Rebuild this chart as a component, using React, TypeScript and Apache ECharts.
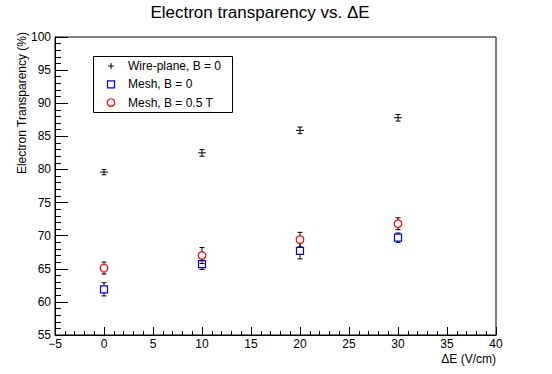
import React, { useEffect, useRef } from "react";
import * as echarts from "echarts";

const titleText = "Electron transparency vs. \u0394E";
const xTitle = "\u0394E (V/cm)";
const yTitle = "Electron Transparency (%)";
const xValues = [0, 10, 20, 30];
const wireName = "Wire-plane, B = 0";
const wireValues = [79.6, 82.5, 85.9, 87.8];
const wireErrors = [0.4, 0.5, 0.5, 0.5];
const meshName = "Mesh, B = 0";
const meshValues = [61.9, 65.7, 67.7, 69.7];
const meshErrors = [1.0, 0.8, 1.2, 0.7];
const meshBName = "Mesh, B = 0.5 T";
const meshBValues = [65.1, 67.0, 69.4, 71.8];
const meshBErrors = [0.9, 1.2, 1.1, 0.9];

const FONT = "Liberation Sans, Arial, Helvetica, sans-serif";

function makeSeries(name: string, ys: number[], errs: number[], marker: string, color: string) {
  return {
    type: "custom",
    name,
    clip: true,
    data: xValues.map((x, i) => [x, ys[i], errs[i]]),
    encode: { x: 0, y: 1 },
    renderItem: (params: any, api: any) => {
      const x = api.value(0);
      const y = api.value(1);
      const e = api.value(2);
      const top = api.coord([x, y + e]);
      const bot = api.coord([x, y - e]);
      const c = api.coord([x, y]);
      const cap = 2.5;
      const ls = { stroke: "#000", lineWidth: 1 };
      const children: any[] = [
        { type: "line", shape: { x1: c[0], y1: top[1], x2: c[0], y2: bot[1] }, style: ls },
        { type: "line", shape: { x1: c[0] - cap, y1: top[1], x2: c[0] + cap, y2: top[1] }, style: ls },
        { type: "line", shape: { x1: c[0] - cap, y1: bot[1], x2: c[0] + cap, y2: bot[1] }, style: ls },
      ];
      if (marker === "plus") {
        children.push({ type: "line", shape: { x1: c[0] - 4, y1: c[1], x2: c[0] + 4, y2: c[1] }, style: ls });
      } else if (marker === "square") {
        children.push({ type: "rect", shape: { x: c[0] - 3.5, y: c[1] - 3.5, width: 7, height: 7 }, style: { fill: "#fff", stroke: color, lineWidth: 1.2 } });
      } else {
        children.push({ type: "circle", shape: { cx: c[0], cy: c[1], r: 3.8 }, style: { fill: "#fff", stroke: color, lineWidth: 1.2 } });
      }
      return { type: "group", children };
    },
  };
}

const fmt = (v: number) => String(v).replace("-", "\u2212");

export default function App() {
  const ref = useRef<HTMLDivElement>(null);
  useEffect(() => {
    if (!ref.current) return;
    const chart = echarts.init(ref.current, null, { renderer: "svg" });
    const lx = 93, ly = 56;
    const legendRows = [
      { name: wireName, marker: "plus", color: "#000" },
      { name: meshName, marker: "square", color: "#0000ff" },
      { name: meshBName, marker: "circle", color: "#ff0000" },
    ];
    const legendEls: any[] = [
      { type: "rect", shape: { x: lx + 0.5, y: ly + 0.5, width: 139, height: 56 }, style: { fill: "#fff", stroke: "#000", lineWidth: 1 }, z: 100 },
    ];
    legendRows.forEach((r, i) => {
      const cy = ly + 10 + i * 18.3;
      const mx = 111;
      if (r.marker === "plus") {
        legendEls.push({ type: "line", shape: { x1: mx - 3, y1: cy, x2: mx + 3, y2: cy }, style: { stroke: "#000", lineWidth: 1 }, z: 101 });
        legendEls.push({ type: "line", shape: { x1: mx, y1: cy - 3, x2: mx, y2: cy + 3 }, style: { stroke: "#000", lineWidth: 1 }, z: 101 });
      } else if (r.marker === "square") {
        legendEls.push({ type: "rect", shape: { x: mx - 3.5, y: cy - 3.5, width: 7, height: 7 }, style: { fill: "#fff", stroke: r.color, lineWidth: 1.2 }, z: 101 });
      } else {
        legendEls.push({ type: "circle", shape: { cx: mx, cy, r: 3.8 }, style: { fill: "#fff", stroke: r.color, lineWidth: 1.2 }, z: 101 });
      }
      legendEls.push({ type: "text", x: 128, y: cy, style: { text: r.name, fontSize: 12, fontFamily: FONT, fill: "#000", verticalAlign: "middle", align: "left" }, z: 101 });
    });

    chart.setOption({
      animation: false,
      backgroundColor: "#fff",
      grid: { left: 55, right: 56, top: 37, bottom: 39, show: true, borderColor: "#000", borderWidth: 1, backgroundColor: "transparent" },
      xAxis: {
        type: "value", min: -5, max: 40, interval: 5,
        axisLine: { onZero: false, lineStyle: { color: "#000", width: 1 } },
        axisTick: { inside: true, length: 8, lineStyle: { color: "#000" } },
        minorTick: { show: true, splitNumber: 5, length: 4, lineStyle: { color: "#000" } },
        splitLine: { show: false },
        axisLabel: { color: "#000", fontSize: 12, fontFamily: FONT, margin: 3, formatter: fmt },
      },
      yAxis: {
        type: "value", min: 55, max: 100, interval: 5,
        axisLine: { onZero: false, lineStyle: { color: "#000", width: 1 } },
        axisTick: { inside: true, length: 13, lineStyle: { color: "#000" } },
        minorTick: { show: true, splitNumber: 5, length: 6, lineStyle: { color: "#000" } },
        splitLine: { show: false },
        axisLabel: { color: "#000", fontSize: 12, fontFamily: FONT, margin: 4, formatter: fmt },
      },
      graphic: [
        { type: "text", x: 260, y: 12, style: { text: titleText, fontSize: 17, fontFamily: FONT, fill: "#000", align: "center", verticalAlign: "middle" } },
        { type: "text", x: 496, y: 359, style: { text: xTitle, fontSize: 12, fontFamily: FONT, fill: "#000", align: "right", verticalAlign: "middle" } },
        { type: "text", x: 22, y: 32, rotation: Math.PI / 2, style: { text: yTitle, fontSize: 12, fontFamily: FONT, fill: "#000", align: "right", verticalAlign: "middle" } },
        ...legendEls,
      ],
      series: [
        makeSeries(wireName, wireValues, wireErrors, "plus", "#000"),
        makeSeries(meshName, meshValues, meshErrors, "square", "#0000ff"),
        makeSeries(meshBName, meshBValues, meshBErrors, "circle", "#ff0000"),
      ],
    });
    return () => chart.dispose();
  }, []);
  return <div ref={ref} style={{ width: 552, height: 374, position: "fixed", left: 0, top: 0 }} />;
}
